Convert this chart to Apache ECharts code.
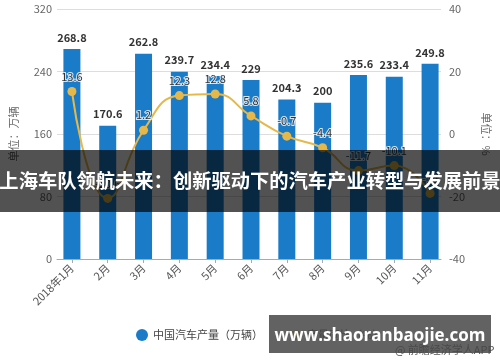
<!DOCTYPE html>
<html>
<head>
<meta charset="utf-8">
<script src="https://cdn.jsdelivr.net/npm/echarts@6/dist/echarts.min.js"></script>
<style>
html,body{margin:0;padding:0;background:#fff;}
#c{width:500px;height:362px;}
</style>
</head>
<body>
<div id="c"></div>
<script>
const categories = ['2018年1月','2月','3月','4月','5月','6月','7月','8月','9月','10月','11月'];
const production = [268.8,170.6,262.8,239.7,234.4,229,204.3,200,235.6,233.4,249.8];
const yoy = [13.6,-20.6,1.2,12.3,12.8,5.8,-0.7,-4.4,-11.7,-10.1,-19.0];
const leftTicks = {min:0,max:320,interval:80};
const rightTicks = {min:-40,max:40,interval:20};
const seriesNames = ['中国汽车产量（万辆）','产量同比（%）'];
const bannerText = '上海车队领航未来：创新驱动下的汽车产业转型与发展前景';
const siteText = 'www.shaoranbaojie.com';
const sourceText = '@ 前瞻经济学人APP';

const FONT = '"Noto Sans CJK SC", "Noto Sans", sans-serif';
const BLUE = '#1a7cc9';
const GOLD = '#e6b84a';

const chart = echarts.init(document.getElementById('c'));
chart.setOption({
  animation:false,
  textStyle:{fontFamily:FONT},
  grid:[
    {left:44,right:47,top:9,bottom:103},
    {left:54,right:52,top:9,bottom:103}
  ],
  legend:{
    left:131, top:324,
    itemGap:26, itemWidth:12, itemHeight:12,
    textStyle:{fontSize:11,color:'#444',fontFamily:FONT},
    data:[{name:seriesNames[0],icon:'circle',itemStyle:{color:BLUE}},{name:seriesNames[1]}]
  },
  xAxis:[
    {gridIndex:0,type:'category',data:categories,
     axisLine:{lineStyle:{color:'#aaa'}},axisTick:{show:false},axisLabel:{show:false}},
    {gridIndex:1,type:'category',data:categories,
     axisLine:{show:false},
     axisTick:{show:true,alignWithLabel:true,length:4,lineStyle:{color:'#aaa'}},
     axisLabel:{rotate:45,fontSize:11,color:'#555',margin:7,interval:0,fontFamily:FONT}}
  ],
  yAxis:[
    {gridIndex:0,type:'value',min:leftTicks.min,max:leftTicks.max,interval:leftTicks.interval,
     name:'单位：万辆',nameLocation:'middle',nameGap:38,
     nameTextStyle:{fontSize:11,color:'#666'},
     axisLine:{show:false},axisTick:{show:false},
     axisLabel:{fontSize:11,color:'#666',margin:5},
     splitLine:{lineStyle:{color:'#ddd'}}},
    {gridIndex:0,type:'value',position:'right',min:rightTicks.min,max:rightTicks.max,interval:rightTicks.interval,
     name:'单位：%',nameLocation:'middle',nameGap:40,nameRotate:-90,
     nameTextStyle:{fontSize:11,color:'#666'},
     axisLine:{show:false},axisTick:{show:false},
     axisLabel:{fontSize:11,color:'#666',margin:8},
     splitLine:{show:false}},
    {gridIndex:1,type:'value',min:leftTicks.min,max:leftTicks.max,interval:leftTicks.interval,show:false},
    {gridIndex:1,type:'value',min:rightTicks.min,max:rightTicks.max,interval:rightTicks.interval,show:false,position:'right'}
  ],
  series:[
    {name:seriesNames[0],type:'bar',xAxisIndex:1,yAxisIndex:2,data:production,
     barWidth:17,itemStyle:{color:BLUE},
     label:{show:true,position:'top',distance:6,fontSize:11,fontWeight:'bold',color:'#333',fontFamily:FONT}},
    {name:seriesNames[1],type:'line',xAxisIndex:1,yAxisIndex:3,data:yoy,smooth:true,
     symbol:'circle',symbolSize:9,
     lineStyle:{color:GOLD,width:2},itemStyle:{color:GOLD},
     label:{show:true,position:'top',distance:5,fontSize:11,color:'#333',
            textBorderColor:'rgba(255,255,255,0.8)',textBorderWidth:2,fontFamily:FONT},
     z:5}
  ],
  graphic:[
    {type:'text',left:395,top:344,z:10,
     style:{text:sourceText,fontSize:11,fill:'#555',fontFamily:FONT}},
    {type:'rect',shape:{x:0,y:150,width:500,height:62},z:20,
     style:{fill:'rgba(0,0,0,0.68)'}},
    {type:'text',x:250,y:181,z:21,
     style:{text:bannerText,fontSize:19.3,fontWeight:'bold',fill:'#fff',align:'center',verticalAlign:'middle',fontFamily:FONT}},
    {type:'rect',shape:{x:269,y:315,width:222,height:38},z:20,
     style:{fill:'rgba(70,70,70,0.85)'}},
    {type:'text',x:380,y:336,z:21,
     style:{text:siteText,fontSize:17,fontWeight:'bold',fill:'#fff',align:'center',verticalAlign:'middle',fontFamily:'"Open Sans", "DejaVu Sans", sans-serif'}}
  ]
});
</script>
</body>
</html>
